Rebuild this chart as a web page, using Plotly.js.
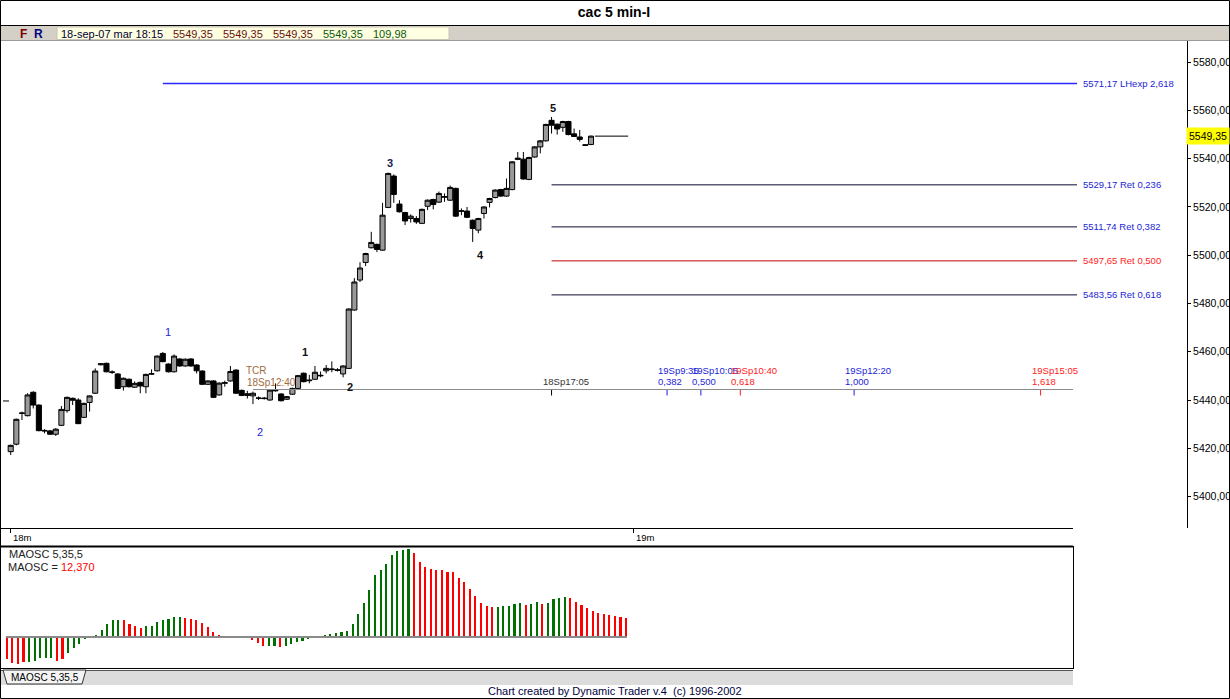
<!DOCTYPE html>
<html><head><meta charset="utf-8">
<script src="https://cdn.plot.ly/plotly-3.0.1.min.js"></script>
<style>html,body{margin:0;padding:0;background:#fff;overflow:hidden}#chart{width:1230px;height:699px}</style>
</head><body><div id="chart"></div>
<script>
// ---------------- DATA ----------------
const open = [5418.6,5421.7,5434.4,5433.5,5443.2,5437.9,5427.4,5427.2,5425.8,5429.5,
5435.6,5440.7,5440.0,5432.8,5439.0,5442.8,5454.6,5455.2,5451.4,5450.8,
5445.5,5448.6,5445.3,5447.3,5445.5,5450.7,5452.1,5459.3,5454.9,5451.7,
5457.0,5454.1,5457.0,5454.5,5452.0,5446.5,5447.9,5442.1,5446.9,5447.9,
5452.4,5444.0,5441.9,5441.7,5440.7,5440.8,5440.0,5443.8,5442.5,5440.3,
5442.4,5444.8,5451.1,5448.0,5448.6,5450.0,5452.1,5452.6,5452.5,5450.8,
5453.1,5477.3,5489.7,5497.0,5503.1,5504.5,5502.1,5519.8,5532.8,5521.2,
5517.7,5515.2,5515.2,5513.2,5520.3,5523.1,5522.0,5524.0,5522.8,5527.7,
5518.2,5518.3,5514.5,5510.4,5517.3,5521.9,5523.9,5527.2,5524.5,5527.2,
5539.7,5539.8,5531.4,5540.7,5544.9,5547.4,5555.9,5554.3,5553.0,5555.4,
5550.3,5549.0,5545.8,5545.9];
const high = [5421.5,5432.3,5435.2,5442.8,5443.6,5438.2,5427.9,5427.6,5428.4,5437.5,
5441.4,5441.0,5440.7,5438.9,5441.9,5453.1,5455.2,5455.5,5452.3,5451.1,
5449.3,5448.9,5447.7,5447.6,5450.9,5452.7,5458.5,5459.9,5455.2,5458.9,
5457.3,5457.2,5457.3,5454.8,5452.3,5448.2,5448.2,5447.3,5448.0,5454.1,
5452.7,5444.3,5443.8,5443.5,5441.5,5441.3,5444.4,5446.9,5442.8,5441.7,
5445.1,5450.4,5451.4,5450.4,5454.1,5451.8,5454.5,5456.0,5453.2,5454.4,
5478.0,5490.5,5497.1,5501.0,5509.7,5504.8,5521.7,5534.2,5533.5,5522.8,
5518.0,5516.9,5516.2,5519.3,5523.1,5523.4,5526.4,5525.6,5528.9,5528.0,
5519.4,5520.0,5514.8,5515.5,5520.3,5523.8,5527.3,5527.5,5531.8,5539.0,
5542.8,5542.8,5540.8,5545.2,5547.7,5554.5,5557.3,5554.6,5555.7,5555.7,
5552.5,5551.9,5546.0,5549.6];
const low = [5417.2,5421.2,5431.7,5433.2,5436.5,5427.0,5426.2,5425.6,5425.1,5429.2,
5434.7,5437.9,5430.0,5432.5,5435.2,5442.5,5454.3,5451.5,5450.8,5444.5,
5443.9,5445.2,5445.0,5442.8,5442.8,5450.4,5451.8,5455.6,5451.4,5451.4,
5453.8,5453.8,5453.8,5451.0,5446.2,5446.2,5440.8,5441.8,5445.5,5447.6,
5442.5,5441.6,5440.6,5438.3,5440.0,5440.2,5439.7,5443.5,5439.4,5440.0,
5442.1,5444.5,5447.3,5446.9,5448.3,5449.4,5451.0,5451.5,5451.8,5449.4,
5452.8,5477.0,5488.9,5495.5,5502.8,5501.3,5501.8,5519.5,5521.7,5517.7,
5512.5,5513.5,5513.0,5512.9,5518.7,5519.0,5521.7,5522.1,5522.5,5515.9,
5516.6,5515.4,5505.5,5509.1,5515.2,5519.8,5523.6,5524.2,5524.2,5526.9,
5539.4,5531.3,5531.1,5540.4,5542.2,5547.1,5550.4,5550.0,5551.1,5549.7,
5549.0,5547.1,5545.3,5545.6];
const close = [5421.2,5432.0,5434.6,5442.1,5437.9,5427.3,5427.2,5425.8,5427.9,5436.1,
5441.1,5439.9,5430.2,5438.6,5441.7,5452.0,5455.0,5451.7,5451.6,5444.8,
5449.0,5445.5,5446.9,5445.8,5450.6,5450.9,5458.2,5455.9,5451.7,5458.2,
5454.1,5456.9,5454.1,5452.1,5446.5,5447.9,5441.1,5447.0,5447.2,5451.8,
5442.8,5441.9,5442.6,5442.8,5440.8,5440.6,5444.1,5444.0,5439.7,5441.4,
5444.8,5450.1,5447.6,5448.2,5451.5,5450.2,5453.1,5452.8,5452.3,5454.1,
5477.7,5488.9,5494.7,5500.7,5505.3,5502.4,5516.6,5533.9,5525.2,5518.0,
5514.2,5516.2,5513.8,5519.0,5522.8,5521.0,5525.6,5524.3,5528.1,5516.2,
5518.4,5515.7,5511.1,5515.2,5520.0,5523.5,5527.0,5524.5,5527.7,5538.7,
5540.2,5531.6,5540.5,5544.9,5547.4,5554.2,5553.9,5552.3,5555.4,5550.0,
5549.2,5548.0,5545.5,5549.35];
const prevClose = 5439.6;
const lastPrice = 5549.35;

const priceTicks = [5400,5420,5440,5460,5480,5500,5520,5540,5560,5580];
const dayTickIdx = [0, 110.6];
const dayTickText = ['18m','19m'];

const retLevels = [5571.17, 5529.17, 5511.74, 5497.65, 5483.56];
const retNames  = ['LHexp 2,618','Ret 0,236','Ret 0,382','Ret 0,500','Ret 0,618'];
const retStart  = [27, 96, 96, 96, 96];
const retKind   = ['exp','ret','ret','mid','ret'];

const projIdx   = [96, 116.5, 122.5, 129.5, 149.7, 182.8];
const projTime  = ['', '19Sp9:35', '19Sp10:05', '19Sp10:40', '19Sp12:20', '19Sp15:05'];
const projRatio = ['18Sp17:05', '0,382', '0,500', '0,618', '1,000', '1,618'];
const projKind  = ['base','blue','blue','red','blue','red'];
const tcrIdx = 43;

const waveText  = ['1','2','1','2','3','4','5'];
const waveIdx   = [27.95, 44.25, 52.2, 60.2, 67.3, 83.3, 96.25];
const wavePrice = [5468.2, 5426.7, 5459.9, 5445.4, 5538.2, 5500.1, 5561.0];
const waveKind  = ['minor','minor','major','major','major','major','major'];

const oscValues = [-14.4,-17.0,-17.6,-15.9,-16.3,-15.3,-13.4,-13.7,-13.4,-15.3,
-14.4,-10.5,-6.9,-4.7,-1.5,-0.3,1.3,4.5,8.4,11.0,
11.0,11.0,8.4,7.1,5.8,7.1,7.1,9.9,11.0,11.8,
12.7,12.9,12.3,11.6,11.0,8.8,6.5,3.2,1.1,0.2,
0.6,0.2,0.1,-0.2,-1.9,-4.1,-5.8,-5.6,-5.6,-6.5,
-6.0,-4.5,-3.2,-2.4,-1.1,-0.6,0.6,1.3,1.9,
2.6,3.2,4.1,8.4,14.8,21.9,30.3,40.0,43.2,47.1,
52.9,55.5,56.1,56.8,54.2,48.4,45.2,43.9,43.2,43.0,
41.9,41.9,38.1,35.5,31.0,26.4,21.9,20.0,19.4,19.4,
20.0,20.0,21.3,21.9,20.6,21.3,22.6,21.3,21.9,24.5,
25.2,25.8,25.2,22.6,20.6,18.7,16.8,15.7,14.8,14.2,
13.5,12.9,12.37];
const oscDir = ('rrrrgggggr'+'rggggggggg'+'grrrrggggg'+'ggrrrrrrrr'+'grrrrrrggr'+'ggggggggg'+
  'gggggggggggggg'+'rrrrrrrrrrrrrrr'+'ggggg'+'r'+'gg'+'r'+'gggg'+'rrrrrrrrrrr').split('');

// ---------------- LAYOUT HELPERS ----------------
const W = 1230, H = 699;
const FONT = 'Liberation Sans, Arial, sans-serif';
const X0 = 10.7, DX = 5.634;           // main chart: bar index -> pixel
const idxAt = p => (p - X0) / DX;
const PY0 = 400, P0 = 5440, PPP = 2.413; // price -> pixel
const priceAt = y => P0 + (PY0 - y) / PPP;
const OX0 = 6.7, ODX = 5.58, OPPU = 1.55, OZERO = 637;
const px = x => x / W, py = y => 1 - y / H;
const fmt = v => v.toFixed(2).replace('.', ',');
const idx = open.map((_, i) => i);
const oscIdx = oscValues.map((_, i) => i);

const C = {blue:'#1d1dd6', red:'#ff1a1a', green:'#007000', oscRed:'#ff0000', tcr:'#a06a3a'};

const traces = [];
retLevels.forEach((lv,k)=>{
  const isExp = retKind[k]==='exp';
  const col = isExp ? 'rgb(40,40,255)' : (retKind[k]==='mid' ? '#c00000' : '#0a0a30');
  traces.push({type:'scatter', mode:'lines', x:[retStart[k], idxAt(1077)], y:[lv, lv],
    line:{color:col, width:isExp?1.4:1}, xaxis:'x', yaxis:'y', hoverinfo:'skip', showlegend:false});
});
traces.push({
  type:'candlestick', x: idx, open, high, low, close,
  xaxis:'x', yaxis:'y', whiskerwidth:0, hoverinfo:'skip', showlegend:false,
  increasing:{line:{color:'#000', width:1}, fillcolor:'#999999'},
  decreasing:{line:{color:'#000', width:1}, fillcolor:'#000000'}
});
traces.push({type:'scatter', mode:'lines', x:[idx[idx.length-1]+0.7, idx[idx.length-1]+6.6], y:[lastPrice,lastPrice],
  line:{color:'#000', width:1}, xaxis:'x', yaxis:'y', hoverinfo:'skip', showlegend:false});
traces.push({type:'scatter', mode:'lines', x:[idxAt(3), idxAt(9)], y:[prevClose, prevClose],
  line:{color:'#000', width:1}, xaxis:'x', yaxis:'y', hoverinfo:'skip', showlegend:false});
traces.push({type:'scatter', mode:'lines', x:[-0.15, oscIdx[oscIdx.length-1]+0.15], y:[0,0],
  line:{color:'#8a8a8a', width:2}, xaxis:'x2', yaxis:'y2', hoverinfo:'skip', showlegend:false});
traces.push({type:'bar', x: oscIdx, y: oscValues, width:0.38,
  marker:{color: oscDir.map(d => d === 'g' ? C.green : C.oscRed), line:{width:0}},
  xaxis:'x2', yaxis:'y2', hoverinfo:'skip', showlegend:false});

const shapes = [];
const annotations = [];
function pline(x0,y0,x1,y1,color,width){shapes.push({type:'line',xref:'paper',yref:'paper',x0:px(x0),y0:py(y0),x1:px(x1),y1:py(y1),line:{color,width}});}
function prect(x0,y0,x1,y1,fill,lc,lw){shapes.push({type:'rect',xref:'paper',yref:'paper',x0:px(x0),y0:py(y0),x1:px(x1),y1:py(y1),fillcolor:fill,line:{color:lc||fill,width:lw||0},layer:'below'});}
function ptext(text,x,y,size,color,anchor,bold){annotations.push({xref:'paper',yref:'paper',x:px(x),y:py(y),text:bold?'<b>'+text+'</b>':text,showarrow:false,xanchor:anchor||'left',yanchor:'middle',font:{family:FONT,size,color},borderpad:0});}

// header strip
prect(0,25,1230,40,'#d4d0c8');
pline(0,25.5,1230,25.5,'#000',1);
pline(0,40.5,1230,40.5,'#9a9a9a',1);
prect(57,27,449,39.5,'#ffffe1','#c8c4b8',1);
ptext('F',23.5,33.5,12,'#7a0000','center',true);
ptext('R',38.5,33.5,12,'#000080','center',true);
ptext('18-sep-07 mar 18:15',60,33.5,11,'#000033');
ptext('5549,35',172,33.5,11,'#6b1010');
ptext('5549,35',222,33.5,11,'#6b1010');
ptext('5549,35',272,33.5,11,'#6b1010');
ptext('5549,35',322,33.5,11,'#0b5a0b');
ptext('109,98',372,33.5,11,'#0b5a0b');

// main chart bottom line, oscillator panel frame, tab strip
pline(0,528.5,1073,528.5,'#000',1);
pline(0,546.5,1073,546.5,'#000',2);
pline(1073.5,546,1073.5,669,'#000',1);
pline(0,668.5,1073,668.5,'#000',1);
pline(0,670.5,1073,670.5,'#555',1);
prect(0,671,1073,685,'#dcdcdc');
shapes.push({type:'path',xref:'paper',yref:'paper',
  path:`M ${px(3)} ${py(670)} L ${px(7)} ${py(684)} L ${px(82)} ${py(684)} L ${px(86)} ${py(670)} Z`,
  fillcolor:'#f4f4f4',line:{color:'#333',width:1}});
ptext('MAOSC 5,35,5',44.5,677,10,'#000','center');
ptext('Chart created by Dynamic Trader v.4  (c) 1996-2002',614.5,691,11,'#000040','center');
shapes.push({type:'rect',xref:'paper',yref:'paper',x0:px(0.5),y0:py(698.5),x1:px(1229.5),y1:py(0.5),line:{color:'#000',width:1}});

// retracement labels
retLevels.forEach((lv,k)=>{
  const tcol = retKind[k]==='mid' ? C.red : C.blue;
  annotations.push({xref:'paper',yref:'y',x:px(1081),y:lv,text:fmt(lv)+' '+retNames[k],showarrow:false,
    xanchor:'left',yanchor:'middle',font:{family:FONT,size:9.5,color:tcol}});
});

// time projection baseline, ticks and labels
shapes.push({type:'line',xref:'x',yref:'paper',x0:tcrIdx,x1:idxAt(1073),y0:py(389.5),y1:py(389.5),line:{color:'#8c8c8c',width:1}});
projIdx.forEach((xi,k)=>{
  const col = projKind[k]==='red' ? C.red : (projKind[k]==='blue' ? C.blue : '#000');
  const tcol = projKind[k]==='base' ? '#333' : col;
  shapes.push({type:'line',xref:'x',yref:'paper',x0:xi,x1:xi,y0:py(390),y1:py(395.5),line:{color:col,width:1}});
  if(projTime[k]) annotations.push({xref:'x',yref:'paper',x:xi,y:py(370),xshift:-11,text:projTime[k],showarrow:false,xanchor:'left',yanchor:'middle',font:{family:FONT,size:9.5,color:tcol}});
  annotations.push({xref:'x',yref:'paper',x:xi,y:py(381.5),xshift:-11,text:projRatio[k],showarrow:false,xanchor:'left',yanchor:'middle',font:{family:FONT,size:9.5,color:tcol}});
});
annotations.push({xref:'x',yref:'paper',x:tcrIdx,y:py(370),xshift:-9,text:'TCR',showarrow:false,xanchor:'left',yanchor:'middle',font:{family:FONT,size:10,color:C.tcr}});
annotations.push({xref:'x',yref:'paper',x:tcrIdx,y:py(382),xshift:-8,text:'18Sp12:40',showarrow:false,xanchor:'left',yanchor:'middle',font:{family:FONT,size:10,color:C.tcr}});

// wave labels
waveText.forEach((t,k)=>{
  const minor = waveKind[k]==='minor';
  annotations.push({xref:'x',yref:'y',x:waveIdx[k],y:wavePrice[k],text:minor?t:'<b>'+t+'</b>',showarrow:false,
    xanchor:'center',yanchor:'middle',font:{family:FONT,size:11,color:minor?'#2222dd':(k===4?'#1a1a50':'#111')}});
});

// day labels
dayTickIdx.forEach((xi,k)=>annotations.push({xref:'x',yref:'paper',x:xi,y:py(537.5),xshift:0,text:dayTickText[k],showarrow:false,
  xanchor:'left',yanchor:'middle',font:{family:FONT,size:9.5,color:'#000'}}));

// price tag
annotations.push({xref:'paper',yref:'y',x:px(1186),y:lastPrice,text:fmt(lastPrice),showarrow:false,xanchor:'left',yanchor:'middle',
  bgcolor:'#ffff00',borderpad:2,font:{family:FONT,size:10.5,color:'#000'}});

// oscillator labels
ptext('MAOSC 5,35,5',8,554,11,'#222');
ptext('MAOSC = <span style="color:#ff0000">'+oscValues[oscValues.length-1].toFixed(3).replace('.',',')+'</span>',7,566.5,11,'#222');

const layout = {
  width:W, height:H, margin:{l:0,r:0,t:0,b:0}, paper_bgcolor:'#fff', plot_bgcolor:'rgba(0,0,0,0)',
  showlegend:false, separators:',.', boxgap:0.1, boxgroupgap:0,
  title:{text:'<b>cac 5 min-I</b>', x:614/W, xanchor:'center', y:py(12), yanchor:'middle', xref:'paper', yref:'paper',
    font:{family:FONT,size:14,color:'#000'}},
  xaxis:{domain:[px(2),px(1187)], range:[idxAt(2), idxAt(1187)], showgrid:false, zeroline:false, showline:false,
    tickvals:dayTickIdx, ticktext:['',''], ticks:'outside', ticklen:4, tickcolor:'#000', tickwidth:1,
    rangeslider:{visible:false}, fixedrange:true, anchor:'y'},
  yaxis:{domain:[py(528),py(40)], range:[priceAt(528), priceAt(40)], side:'right', showgrid:false, zeroline:false,
    showline:true, linecolor:'#000', linewidth:1, ticks:'outside', ticklen:3, tickcolor:'#000',
    tickvals:priceTicks, tickformat:'.2f', ticklabelstandoff:0,
    tickfont:{family:FONT,size:10.5,color:'#000'}, fixedrange:true, anchor:'x'},
  xaxis2:{domain:[0,px(1073)], range:[(0-OX0)/ODX, (1073-OX0)/ODX], visible:false, anchor:'y2', fixedrange:true},
  yaxis2:{domain:[py(668),py(547)], range:[-(668-OZERO)/OPPU, (OZERO-547)/OPPU], visible:false, anchor:'x2', fixedrange:true},
  bargap:0, shapes, annotations
};
Plotly.newPlot('chart', traces, layout, {staticPlot:true, displayModeBar:false});
</script></body></html>
